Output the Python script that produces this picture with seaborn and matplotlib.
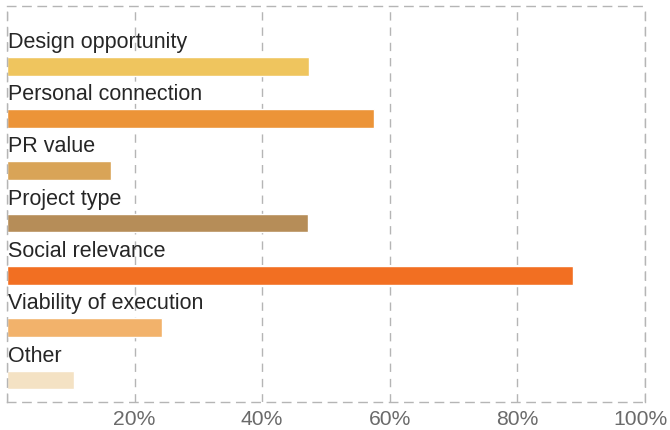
import pandas as pd
import matplotlib.pyplot as plt
import matplotlib.transforms as mtransforms
import seaborn as sns

# --- data ---
reasons = ['Design opportunity', 'Personal connection', 'PR value', 'Project type',
           'Social relevance', 'Viability of execution', 'Other']
shares = [47.4, 57.6, 16.3, 47.2, 88.7, 24.3, 10.5]
bar_colors = ['#EFC55E', '#EC9438', '#D9A457', '#B68D58', '#F26F22', '#F2B26B', '#F4E2C4']
tick_values = [20, 40, 60, 80, 100]
tick_labels = ['20%', '40%', '60%', '80%', '100%']

df = pd.DataFrame({'reason': reasons, 'share': shares})

sns.set_theme(style="white")
plt.rcParams['font.family'] = ['Liberation Sans', 'DejaVu Sans']

fig = plt.figure(figsize=(6.7, 4.31), dpi=100)
ax = fig.add_axes([0.0104, 0.065, 0.9523, 0.9188])

sns.barplot(data=df, x='share', y='reason', hue='reason', palette=bar_colors,
            legend=False, orient='h', width=0.36, saturation=1, ax=ax)

# labels sit above each bar
for i, name in enumerate(reasons):
    ax.text(0.15, i - 0.37, name, fontsize=15.5, color='#262626', va='baseline', ha='left')

ax.set_xlim(0, 100)
ax.set_ylim(6.42, -1.15)
ax.set_xticks([0] + tick_values)
ax.set_xticklabels([''] + tick_labels, fontsize=15.2, color='#6a6a6a')
ax.set_yticks([])
ax.set_xlabel('')
ax.set_ylabel('')
ax.tick_params(axis='x', length=0, pad=5)

# keep the 100% label inside the figure edge
last = ax.get_xticklabels()[-1]
last.set_transform(last.get_transform() +
                   mtransforms.ScaledTranslation(-0.05, 0, fig.dpi_scale_trans))

ax.grid(axis='x', linestyle=(0, (6, 5)), color='#b5b5b5', linewidth=1)
ax.set_axisbelow(True)
for side in ['top', 'bottom', 'left', 'right']:
    ax.spines[side].set_visible(True)
    ax.spines[side].set_linestyle((0, (6, 5)))
    ax.spines[side].set_color('#b5b5b5')
    ax.spines[side].set_linewidth(1)

plt.savefig('out.png', dpi=100)
